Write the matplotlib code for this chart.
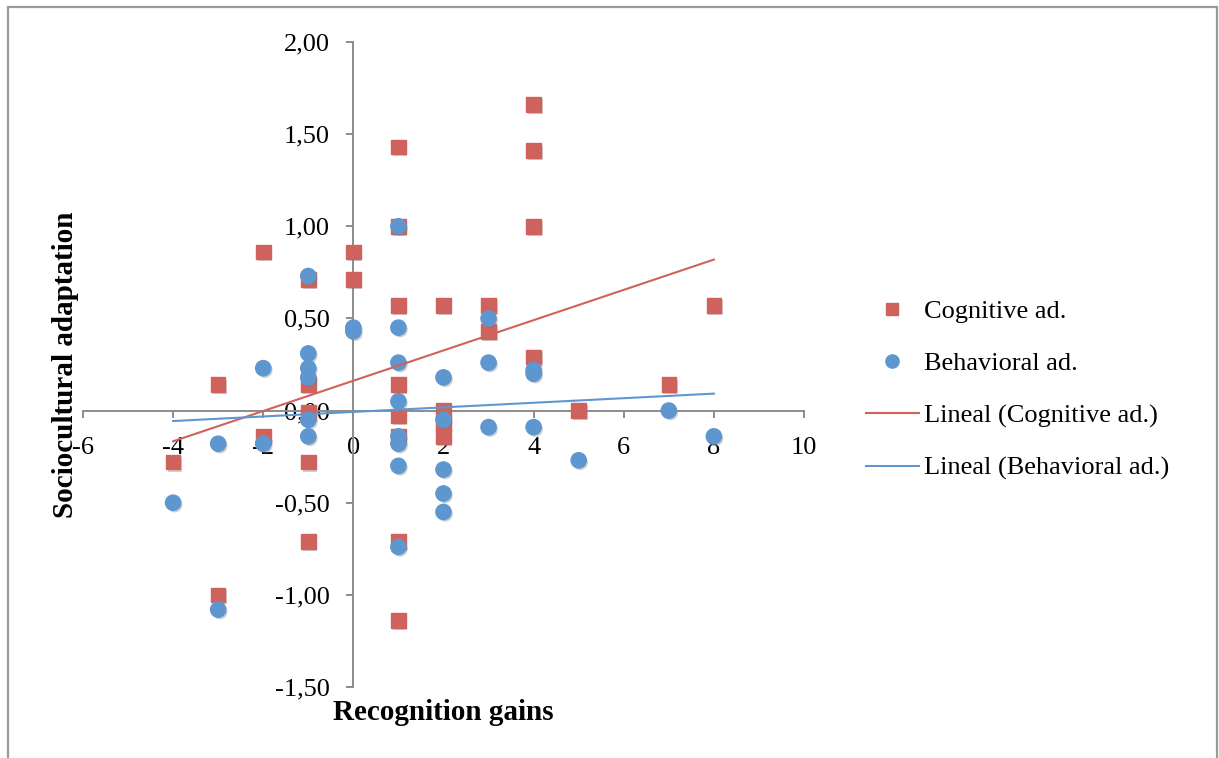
import numpy as np
import matplotlib
matplotlib.use("Agg")
import matplotlib.pyplot as plt
import matplotlib.patheffects as pe
from matplotlib.lines import Line2D
from matplotlib.patches import Rectangle

# values
cog_x = [-4, -3, -3, -2, -2, -1, -1, -1, -1, -1, 0, 0,
         1, 1, 1, 1, 1, 1, 1, 1, 2, 2, 2, 2, 3, 3, 4, 4, 4, 4, 5, 7, 8]
cog_y = [-0.28, 0.14, -1.00, 0.86, -0.14, 0.71, 0.14, -0.01, -0.28, -0.71, 0.86, 0.71,
         1.43, 1.00, 0.57, 0.14, -0.03, -0.14, -0.71, -1.14, 0.57, 0.00, -0.07, -0.14,
         0.57, 0.43, 1.66, 1.41, 1.00, 0.29, 0.00, 0.14, 0.57]

beh_x = [-4, -3, -3, -2, -2, -1, -1, -1, -1, -1, -1, 0, 0,
         1, 1, 1, 1, 1, 1, 1, 1, 2, 2, 2, 2, 2, 3, 3, 3, 4, 4, 4, 5, 7, 8]
beh_y = [-0.50, -0.18, -1.08, 0.23, -0.18, 0.73, 0.31, 0.23, 0.18, -0.05, -0.14, 0.45, 0.43,
         1.00, 0.45, 0.26, 0.05, -0.14, -0.18, -0.30, -0.74, 0.18, -0.05, -0.32, -0.45, -0.55,
         0.50, 0.26, -0.09, 0.22, 0.20, -0.09, -0.27, 0.00, -0.14]

x_ticks = list(range(-6, 11, 2))
y_ticks = [-1.5, -1.0, -0.5, 0.0, 0.5, 1.0, 1.5, 2.0]

red = "#CF625D"
blue = "#5E97CF"
axis_gray = "#8C8C8C"

plt.rcParams['font.family'] = ['Liberation Serif', 'DejaVu Serif']
plt.rcParams['axes.unicode_minus'] = False

W, H = 1219, 758
fig = plt.figure(figsize=(W / 100, H / 100), dpi=100)
ax = fig.add_axes([83 / W, 1 - 687 / H, (804 - 83) / W, (687 - 42) / H])

def shade():
    return [pe.SimplePatchShadow(offset=(1.2, -1.5), shadow_rgbFace="#777777", alpha=0.35),
            pe.Normal()]

ax.plot(cog_x, cog_y, ls="none", marker="s", ms=10.5, color=red, mec=red,
        path_effects=shade(), zorder=3)
ax.plot(beh_x, beh_y, ls="none", marker="o", ms=11, color=blue, mec=blue,
        path_effects=shade(), zorder=4)

# linear trend lines like Excel's "Lineal"
for xs, ys, c in [(cog_x, cog_y, red), (beh_x, beh_y, blue)]:
    k, b = np.polyfit(xs, ys, 1)
    xx = np.array([min(xs), max(xs)])
    ax.plot(xx, k * xx + b, color=c, lw=1.5, zorder=5)

ax.set_xlim(-6, 10)
ax.set_ylim(-1.5, 2.0)
ax.set_xticks(x_ticks)
ax.set_yticks(y_ticks)
ax.set_xticklabels([str(v) for v in x_ticks])
ax.set_yticklabels([("%.2f" % v).replace(".", ",") for v in y_ticks])

for side in ["top", "right"]:
    ax.spines[side].set_visible(False)
ax.spines["left"].set_position(("data", 0))
ax.spines["bottom"].set_position(("data", 0))
for side in ["left", "bottom"]:
    ax.spines[side].set_color(axis_gray)
    ax.spines[side].set_linewidth(1.4)
ax.tick_params(axis="both", direction="out", length=5, width=1.4, color=axis_gray,
               labelsize=19, labelcolor="black")
ax.tick_params(axis="x", pad=14)
ax.tick_params(axis="y", pad=12)
ax.patch.set_alpha(0)

fig.text(443 / W, 1 - 712 / H, "Recognition gains", fontsize=21, fontweight="bold",
         ha="center", va="center")
fig.text(66 / W, 1 - 365 / H, "Sociocultural adaptation", fontsize=21, fontweight="bold",
         rotation=90, ha="center", va="center")

handles = [
    Line2D([], [], ls="none", marker="s", ms=9, color=red),
    Line2D([], [], ls="none", marker="o", ms=9.5, color=blue),
    Line2D([], [], color=red, lw=1.5),
    Line2D([], [], color=blue, lw=1.5),
]
labels = ["Cognitive ad.", "Behavioral ad.", "Lineal (Cognitive ad.)", "Lineal (Behavioral ad.)"]
fig.legend(handles, labels, loc="upper left", bbox_to_anchor=(866 / W, 1 - 300 / H),
           frameon=False, fontsize=19, handlelength=2.0, handletextpad=0.2,
           labelspacing=1.08, borderaxespad=0, borderpad=0)

# chart area border (bottom edge falls outside the picture)
fig.add_artist(Rectangle((8 / W, -0.05), (1217 - 8) / W, (1 - 7 / H) + 0.05,
                         transform=fig.transFigure, fill=False, ec="#9A9A9A", lw=1.6))

fig.savefig("out.png", dpi=100)
